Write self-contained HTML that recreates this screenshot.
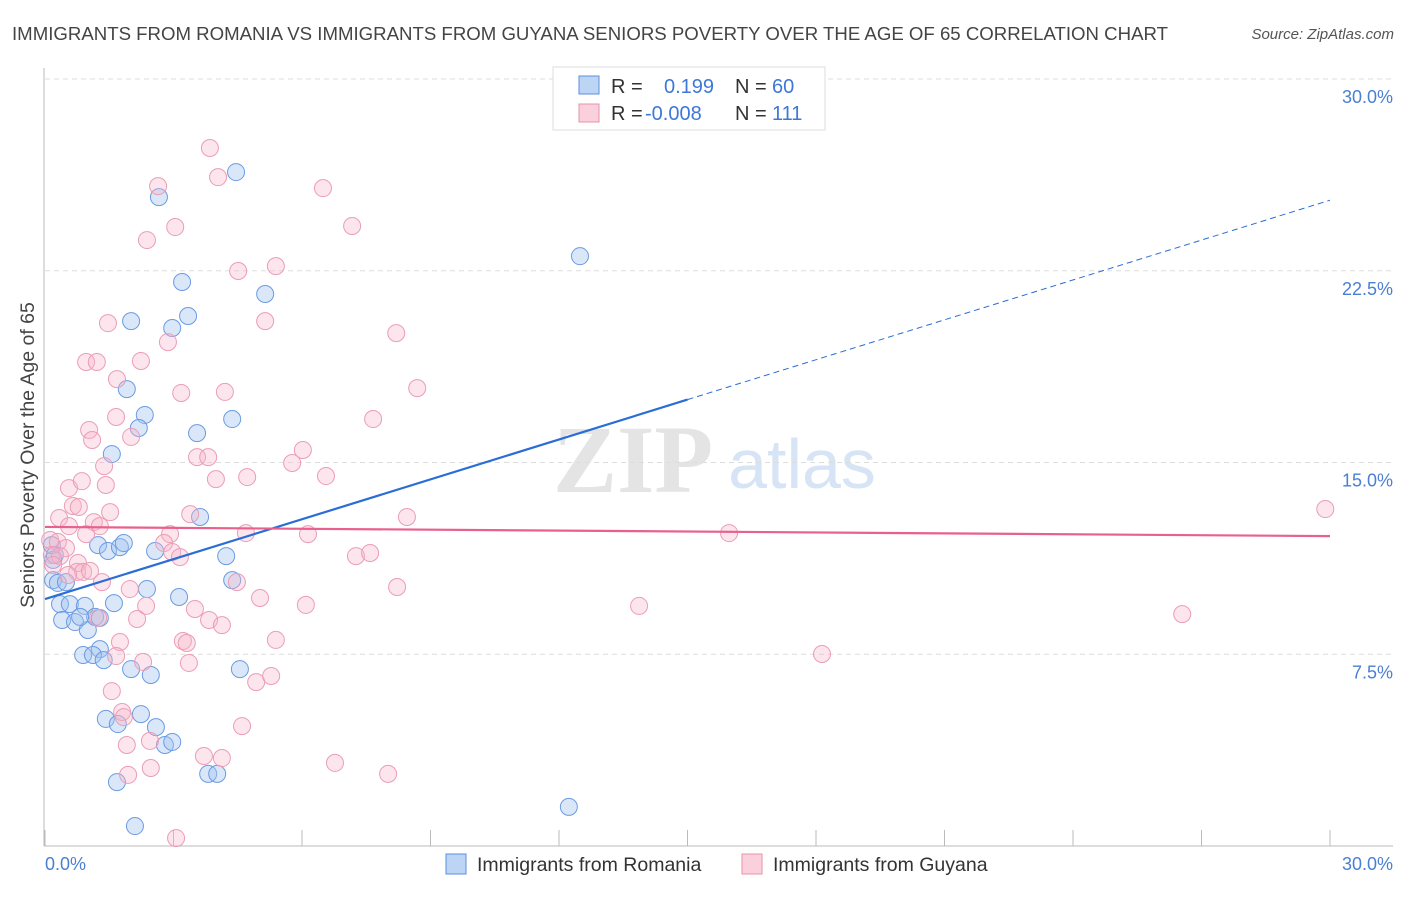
<!DOCTYPE html>
<html><head><meta charset="utf-8"><style>
body{margin:0;background:#fff;font-family:"Liberation Sans",sans-serif}
</style></head><body>
<svg id="c" width="1406" height="892" xmlns="http://www.w3.org/2000/svg">
<text x="12" y="40" font-size="18.5" fill="#444" textLength="1156" lengthAdjust="spacingAndGlyphs">IMMIGRANTS FROM ROMANIA VS IMMIGRANTS FROM GUYANA SENIORS POVERTY OVER THE AGE OF 65 CORRELATION CHART</text>
<text x="1394" y="39" font-size="15" fill="#555" font-style="italic" text-anchor="end">Source: ZipAtlas.com</text>
<g>
<text x="633" y="492" font-size="96" fill="#e4e4e4" font-family="Liberation Serif" text-anchor="middle" font-weight="bold">ZIP</text>
<text x="802" y="488" font-size="70" fill="#d6e4f5" text-anchor="middle">atlas</text>
</g>
<g id="grid"></g>
<g id="marks"></g>
<g id="trend"></g>
<text x="27" y="455" font-size="19.5" fill="#444" text-anchor="middle" transform="rotate(-90 27 455)" dy="7">Seniors Poverty Over the Age of 65</text>
<text x="45" y="870" font-size="18" fill="#4a7fd4">0.0%</text>
<text x="1393" y="870" font-size="18" fill="#4a7fd4" text-anchor="end">30.0%</text>
<g>
<rect x="553" y="67" width="272" height="63" fill="#fff" stroke="#ddd"/>
<rect x="579" y="76" width="20" height="18" fill="#bcd5f5" stroke="#5b8fe0"/>
<rect x="579" y="104" width="20" height="18" fill="#fbd0dd" stroke="#e890ad"/>
<text font-size="20" y="93"><tspan x="611" fill="#333">R = </tspan><tspan x="664" fill="#3d78d8">0.199</tspan><tspan x="735" fill="#333">N = </tspan><tspan x="772" fill="#3d78d8">60</tspan></text>
<text font-size="20" y="120"><tspan x="611" fill="#333">R = </tspan><tspan x="645" fill="#3d78d8">-0.008</tspan><tspan x="735" fill="#333">N = </tspan><tspan x="772" fill="#3d78d8">111</tspan></text>
</g>
<g>
<rect x="446" y="854" width="20" height="20" fill="#bcd5f5" stroke="#5b8fe0"/>
<text x="477" y="871" font-size="19.5" fill="#333">Immigrants from Romania</text>
<rect x="742" y="854" width="20" height="20" fill="#fbd0dd" stroke="#e890ad"/>
<text x="773" y="871" font-size="19.5" fill="#333">Immigrants from Guyana</text>
</g>
</svg>
<script>
const yTicks=[7.5,15,22.5,30];
const yTickLabels=["7.5%","15.0%","22.5%","30.0%"];
const xTicks=[0,3,6,9,12,15,18,21,24,27,30];
const romaniaX=[4.46,2.66,12.49,3.20,5.14,2.01,3.34,2.97,1.91,2.33,2.19,4.37,3.55,1.56,3.62,1.24,1.47,1.75,1.84,2.57,4.23,0.19,0.19,0.30,0.49,2.38,4.37,3.13,1.61,0.35,0.58,0.93,0.40,0.70,1.0,1.17,1.28,0.89,1.12,1.37,2.01,2.47,4.55,1.42,1.70,2.24,2.59,2.80,2.97,3.81,4.02,1.68,2.10,12.23,0.16,0.23,0.82,1.28];
const romaniaY=[26.36,25.38,23.07,22.06,21.59,20.53,20.73,20.26,17.87,16.86,16.35,16.70,16.15,15.33,12.87,11.77,11.54,11.69,11.85,11.54,11.34,11.19,10.40,10.29,10.32,10.05,10.40,9.74,9.50,9.46,9.46,9.39,8.84,8.76,8.45,8.96,7.70,7.47,7.47,7.27,6.92,6.69,6.92,4.97,4.77,5.16,4.65,3.95,4.07,2.82,2.82,2.50,0.78,1.53,11.77,11.38,8.96,8.92];
const guyanaX=[3.85,2.64,6.49,4.04,7.17,3.04,2.38,5.39,4.51,1.47,5.14,8.20,2.87,0.96,1.21,2.24,1.68,3.18,4.20,8.69,1.66,7.66,1.03,1.10,2.01,6.02,3.55,3.81,5.77,1.38,3.99,4.72,6.56,0.56,0.86,1.42,0.65,0.79,1.52,3.39,8.45,0.33,0.56,1.14,0.96,1.28,2.92,4.69,6.14,15.97,29.89,0.12,0.30,0.49,0.16,0.35,2.78,2.97,3.15,7.26,7.59,0.77,0.75,0.89,0.54,1.33,4.48,8.22,1.98,2.36,3.50,5.02,6.09,13.87,26.55,1.24,2.15,3.83,4.13,3.22,3.31,1.75,5.39,1.66,2.29,3.36,18.14,1.56,4.93,5.28,1.80,1.84,4.60,1.91,2.45,3.71,4.13,6.77,1.94,2.47,8.01,3.06,1.05,0.19];
const guyanaY=[27.30,25.81,25.73,26.16,24.25,24.21,23.70,22.68,22.49,20.45,20.53,20.06,19.71,18.93,18.93,18.97,18.26,17.72,17.76,17.91,16.78,16.70,16.27,15.88,16.00,15.49,15.21,15.21,14.98,14.86,14.35,14.43,14.47,14.00,14.27,14.12,13.30,13.26,13.06,12.98,12.87,12.83,12.51,12.67,12.20,12.51,12.20,12.24,12.20,12.24,13.18,11.97,11.89,11.65,11.38,11.34,11.85,11.50,11.30,11.34,11.46,11.07,10.72,10.72,10.60,10.32,10.32,10.13,10.05,9.39,9.27,9.70,9.43,9.39,9.07,8.92,8.88,8.84,8.64,8.02,7.94,7.98,8.06,7.43,7.20,7.16,7.51,6.06,6.41,6.65,5.24,5.04,4.69,3.95,4.11,3.52,3.44,3.25,2.78,3.05,2.82,0.31,10.76,10.99];
const romaniaTrend=[9.66,25.26];
const guyanaTrend=[12.48,12.12];
const NS="http://www.w3.org/2000/svg";
const sx=v=>45+v*(1285/30);
const sy=v=>846-v*(767/30);
function mk(t,a,p){const e=document.createElementNS(NS,t);for(const k in a)e.setAttribute(k,a[k]);p.appendChild(e);return e;}
const grid=document.getElementById('grid');
yTicks.forEach((t,i)=>{
 const l=mk('line',{x1:45,x2:1393,y1:sy(t),y2:sy(t),stroke:'#ddd','stroke-dasharray':'5,4'},grid);
 
 
 const tx=mk('text',{x:1393,y:sy(t)+24,'font-size':18,fill:'#4a7fd4','text-anchor':'end'},grid);
 tx.textContent=yTickLabels[i];
 
 
});
const ax=mk('line',{x1:44,x2:44,y1:68,y2:846,stroke:'#bbb'},grid);


const bx=mk('line',{x1:44,x2:1393,y1:846,y2:846,stroke:'#bbb'},grid);


xTicks.forEach(t=>{
 const l=mk('line',{x1:sx(t),x2:sx(t),y1:830,y2:846,stroke:'#bbb'},grid);
 
 
});
const marks=document.getElementById('marks');
romaniaX.forEach((x,i)=>{
 const c=mk('circle',{cx:sx(x),cy:sy(romaniaY[i]),r:8.5,fill:'rgba(160,196,240,0.4)',stroke:'#6b9be3','stroke-width':1},marks);
 
 
});
guyanaX.forEach((x,i)=>{
 const c=mk('circle',{cx:sx(x),cy:sy(guyanaY[i]),r:8.5,fill:'rgba(245,180,200,0.35)',stroke:'#eb9db7','stroke-width':1},marks);
 
 
});
const tr=document.getElementById('trend');
const ry=x=>romaniaTrend[0]+(romaniaTrend[1]-romaniaTrend[0])*x/30;
const t1=mk('line',{x1:sx(0),y1:sy(ry(0)),x2:sx(15),y2:sy(ry(15)),stroke:'#2a6dd6','stroke-width':2.2},tr);


const t2=mk('line',{x1:sx(15),y1:sy(ry(15)),x2:sx(30),y2:sy(ry(30)),stroke:'#2a6dd6','stroke-width':1,'stroke-dasharray':'6,4'},tr);


const t3=mk('line',{x1:sx(0),y1:sy(guyanaTrend[0]),x2:sx(30),y2:sy(guyanaTrend[1]),stroke:'#e8608c','stroke-width':2.2},tr);


</script>
</body></html>
